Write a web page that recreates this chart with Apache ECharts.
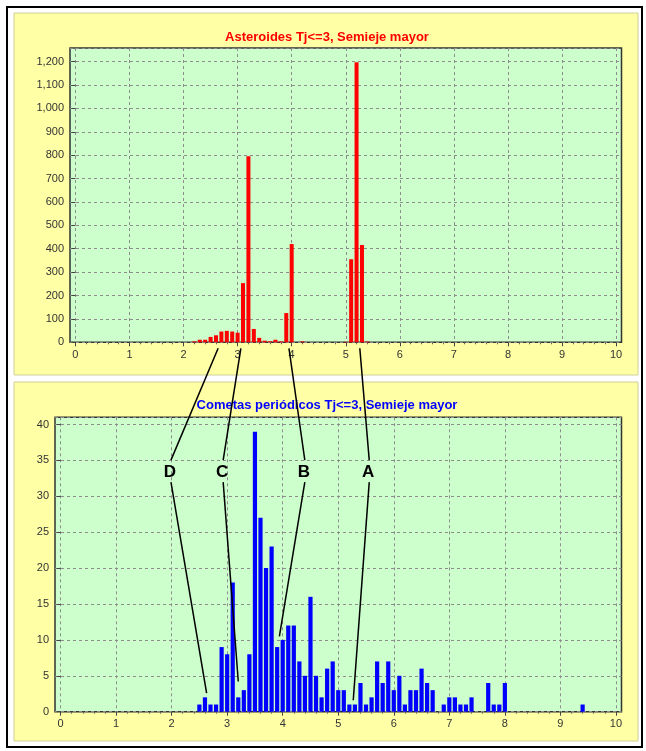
<!DOCTYPE html>
<html><head><meta charset="utf-8">
<script src="https://cdn.jsdelivr.net/npm/echarts@6/dist/echarts.min.js"></script>
<style>html,body{margin:0;padding:0;background:#fff}#c{width:646px;height:751px}</style>
</head><body><div id="c"></div>
<script>
// ---------- data ----------
const topTitle = 'Asteroides Tj<=3, Semieje mayor';
const bottomTitle = 'Cometas periódicos Tj<=3, Semieje mayor';

const topBins   = [2.2, 2.3, 2.4, 2.5, 2.6, 2.7, 2.8, 2.9, 3.0, 3.1, 3.2, 3.3, 3.4, 3.5, 3.6, 3.7, 3.8, 3.9, 4.0, 4.2, 5.0, 5.1, 5.2, 5.3, 5.4];
const topCounts = [4, 11, 11, 23, 30, 46, 49, 46, 41, 253, 795, 57, 19, 7, 4, 11, 4, 125, 420, 4, 2, 355, 1197, 416, 3];

const bottomBins   = [2.5, 2.6, 2.7, 2.8, 2.9, 3.0, 3.1, 3.2, 3.3, 3.4, 3.5, 3.6, 3.7, 3.8, 3.9, 4.0, 4.1, 4.2, 4.3, 4.4, 4.5, 4.6, 4.7, 4.8, 4.9, 5.0, 5.1, 5.2, 5.3, 5.4, 5.5, 5.6, 5.7, 5.8, 5.9, 6.0, 6.1, 6.2, 6.3, 6.4, 6.5, 6.6, 6.7, 6.9, 7.0, 7.1, 7.2, 7.3, 7.4, 7.7, 7.8, 7.9, 8.0, 9.4];
const bottomCounts = [1, 2, 1, 1, 9, 8, 18, 2, 3, 8, 39, 27, 20, 23, 9, 10, 12, 12, 7, 5, 16, 5, 2, 6, 7, 3, 3, 1, 1, 4, 1, 2, 7, 4, 7, 3, 5, 1, 3, 3, 6, 4, 3, 1, 2, 2, 1, 1, 2, 4, 1, 1, 4, 1];

// annotation letters: start on top axis (a value), letter in bottom chart coords, end in bottom chart coords
const annLabels = ['D', 'C', 'B', 'A'];
const annTopX   = [2.64, 3.06, 3.95, 5.26];
const annLabelX = [1.97, 2.91, 4.38, 5.54];
const annLabelY = [33.5, 33.5, 33.5, 33.5];
const annEndX   = [2.63, 3.20, 3.94, 5.27];
const annEndY   = [2.6, 4.2, 10.5, 1.6];

// ---------- layout ----------
const FONT = '"Liberation Sans", Arial, sans-serif';
const XMIN = -0.1, XMAX = 10.1;
const G = [
  {left: 70, top: 48, width: 551.5, height: 294.3},
  {left: 55, top: 417.3, width: 566.5, height: 294.4}
];
function inner(g) {
  const u = g.width / (XMAX - XMIN);
  return {left: g.left + (0 - XMIN) * u, top: g.top, width: 10 * u, height: g.height};
}
const gridLine = {show: true, lineStyle: {type: [3, 3], color: '#8c8c8c', width: 1}};
const lblStyle = {fontSize: 11, color: '#333', fontFamily: FONT};

function tickAxis(gi) {
  return {
    type: 'value', gridIndex: gi, min: 0, max: 10, interval: 1,
    axisLine: {show: false},
    axisTick: {show: true, length: 4, lineStyle: {color: '#444'}},
    minorTick: {show: true, splitNumber: 5, length: 2, lineStyle: {color: '#666'}},
    splitLine: gridLine,
    axisLabel: Object.assign({margin: 7}, lblStyle)
  };
}
function commas(v) { return String(v).replace(/\B(?=(\d{3})+(?!\d))/g, ','); }

const chart = echarts.init(document.getElementById('c'), null, {renderer: 'canvas'});
chart.setOption({
  animation: false,
  backgroundColor: '#ffffff',
  grid: [
    Object.assign({show: true, backgroundColor: '#ccffcc', borderColor: '#333', borderWidth: 1.5}, G[0]),
    Object.assign({show: true, backgroundColor: '#ccffcc', borderColor: '#333', borderWidth: 1.5}, G[1]),
    Object.assign({show: false}, inner(G[0])),
    Object.assign({show: false}, inner(G[1]))
  ],
  xAxis: [
    {type: 'value', gridIndex: 0, min: XMIN, max: XMAX, show: false},
    {type: 'value', gridIndex: 1, min: XMIN, max: XMAX, show: false},
    tickAxis(2),
    tickAxis(3)
  ],
  yAxis: [
    {type: 'value', gridIndex: 0, min: 0, max: 1258, interval: 100,
     axisLine: {show: false}, axisTick: {show: true, length: 4, lineStyle: {color: '#444'}},
     splitLine: gridLine,
     axisLabel: Object.assign({margin: 6, showMaxLabel: false, formatter: commas}, lblStyle)},
    {type: 'value', gridIndex: 1, min: 0, max: 41, interval: 5,
     axisLine: {show: false}, axisTick: {show: true, length: 4, lineStyle: {color: '#444'}},
     splitLine: gridLine,
     axisLabel: Object.assign({margin: 6, showMaxLabel: false}, lblStyle)},
    {type: 'value', gridIndex: 2, min: 0, max: 1, show: false},
    {type: 'value', gridIndex: 3, min: 0, max: 1, show: false}
  ],
  series: [
    {type: 'bar', xAxisIndex: 0, yAxisIndex: 0, barWidth: 4,
     data: topBins.map((x, i) => [x, topCounts[i]]),
     itemStyle: {color: '#ff0000'}},
    {type: 'bar', xAxisIndex: 1, yAxisIndex: 1, barWidth: 4.2,
     data: bottomBins.map((x, i) => [x, bottomCounts[i]]),
     itemStyle: {color: '#0000ff'}}
  ],
  graphic: {elements: [
    {id: 'outer', type: 'rect', z: -30, shape: {x: 7, y: 7, width: 635, height: 740},
     style: {fill: '#ffffff', stroke: '#000', lineWidth: 2}},
    {id: 'panelTop', type: 'rect', z: -20, shape: {x: 14, y: 13, width: 624, height: 362},
     style: {fill: '#ffffa6', stroke: '#cfcf98', lineWidth: 1}},
    {id: 'panelBottom', type: 'rect', z: -20, shape: {x: 14, y: 382, width: 624, height: 359},
     style: {fill: '#ffffa6', stroke: '#cfcf98', lineWidth: 1}},
    {id: 't1', type: 'text', z: 50, style: {text: topTitle, x: 327, y: 37, align: 'center', verticalAlign: 'middle',
     font: 'bold 13px ' + FONT, fill: '#ff0000'}},
    {id: 't2', type: 'text', z: 50, style: {text: bottomTitle, x: 327, y: 405.5, align: 'center', verticalAlign: 'middle',
     font: 'bold 13px ' + FONT, fill: '#0000ff'}}
  ]}
});

// annotations positioned from data coordinates
const els = [];
annLabels.forEach((lab, i) => {
  const s = chart.convertToPixel({xAxisIndex: 0, yAxisIndex: 0}, [annTopX[i], 0]);
  const l = chart.convertToPixel({xAxisIndex: 1, yAxisIndex: 1}, [annLabelX[i], annLabelY[i]]);
  const e = chart.convertToPixel({xAxisIndex: 1, yAxisIndex: 1}, [annEndX[i], annEndY[i]]);
  els.push({id: 'ua' + i, type: 'polyline', z: 60, shape: {points: [[s[0], s[1] + 6], [l[0] + 1, l[1] - 11]]},
    style: {stroke: '#000', lineWidth: 1.5, fill: null}});
  els.push({id: 'la' + i, type: 'polyline', z: 60, shape: {points: [[l[0] + 1, l[1] + 11], [e[0], e[1]]]},
    style: {stroke: '#000', lineWidth: 1.5, fill: null}});
  els.push({id: 'tx' + i, type: 'text', z: 61, style: {text: lab, x: l[0], y: l[1] + 1, align: 'center', verticalAlign: 'middle',
    font: 'bold 17px ' + FONT, fill: '#000'}});
});
chart.setOption({graphic: {elements: els}});
</script>
</body></html>
